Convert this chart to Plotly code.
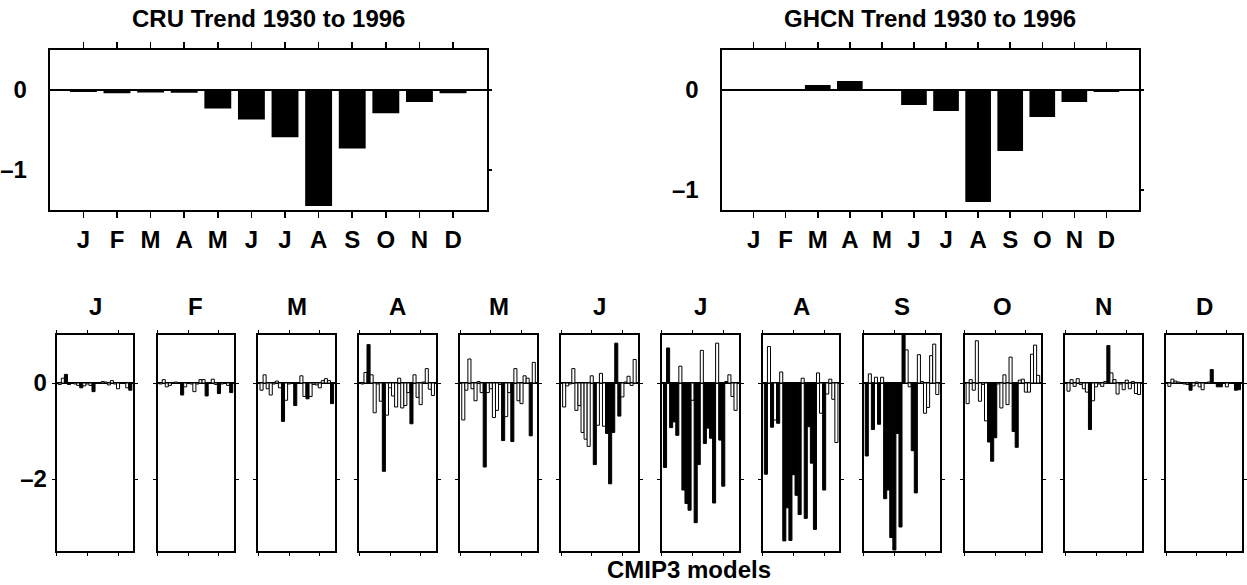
import plotly.graph_objects as go

# ---------------- data ----------------
months = ["J", "F", "M", "A", "M", "J", "J", "A", "S", "O", "N", "D"]
month_num = list(range(1, 13))

cru_trend = [-0.025, -0.04, -0.03, -0.035, -0.23, -0.37, -0.59, -1.45, -0.73, -0.29, -0.15, -0.04]
ghcn_trend = [-0.01, 0.005, 0.05, 0.09, -0.01, -0.15, -0.21, -1.12, -0.61, -0.27, -0.12, -0.02]

models = list(range(1, 25))

cmip_jan = [-0.03, 0.10, 0.18, -0.03, 0.00, -0.02, -0.05, -0.10, -0.06, -0.02, -0.05, -0.18,
            -0.01, 0.00, 0.03, 0.02, -0.04, 0.05, -0.02, -0.12, 0.00, -0.01, -0.10, -0.15]
cmip_feb = [-0.02, 0.07, -0.08, -0.05, 0.00, 0.02, 0.00, -0.25, -0.08, 0.00, -0.02, -0.18,
            -0.02, 0.07, 0.07, -0.27, 0.00, 0.08, -0.03, -0.22, -0.02, 0.00, -0.05, -0.20]
cmip_mar = [-0.15, 0.17, -0.12, -0.25, -0.02, 0.04, -0.10, -0.80, -0.36, -0.02, 0.00, -0.47,
            0.00, 0.15, -0.28, -0.33, -0.28, -0.03, -0.04, -0.10, 0.05, 0.09, 0.05, -0.43]
cmip_apr = [-0.02, 0.22, 0.80, 0.17, -0.62, -0.02, -0.38, -1.84, -0.67, -0.10, -0.27, -0.50,
            0.10, -0.52, -0.47, -0.20, -0.85, 0.17, -0.30, -0.45, 0.02, 0.30, -0.13, -0.26]
cmip_may = [-0.77, -0.15, 0.50, -0.12, -0.37, 0.03, -0.20, -1.75, -0.20, -0.12, -0.72, -0.57,
            -0.03, -1.20, -0.70, -0.20, -1.22, 0.30, -0.37, -0.43, 0.15, 0.10, -1.10, 0.43]
cmip_jun = [-0.50, -0.06, -0.02, 0.30, -0.57, -0.47, -1.03, -1.17, -1.32, 0.15, -1.70, -0.88,
            0.20, -0.90, -1.05, -2.10, -1.03, 0.83, -0.69, -0.29, 0.02, 0.14, -0.05, 0.49]
cmip_jul = [-1.76, 0.73, -0.93, -0.81, -1.09, 0.35, -2.23, -2.51, -2.65, -0.36, -2.91, -1.70,
            0.68, -1.26, -0.94, -1.15, -2.50, 0.83, -1.19, -2.15, 0.03, 0.17, -0.28, -0.57]
cmip_aug = [-1.90, 0.76, -0.92, -0.77, -0.84, 0.23, -3.29, -2.60, -3.28, -1.91, -2.34, -2.74,
            0.10, -2.82, -0.91, -1.67, -3.05, 0.21, -0.63, -2.23, -0.23, 0.08, -0.34, -1.24]
cmip_sep = [-1.52, 0.19, -0.97, 0.12, -0.86, 0.12, -2.41, -2.23, -3.22, -3.48, -1.05, -3.00,
            1.05, 0.69, -0.08, -1.41, -2.29, 0.59, 0.03, -0.63, -0.51, 0.57, 0.81, -0.24]
cmip_oct = [-0.43, 0.07, -0.15, 0.88, -0.38, -0.03, -0.79, -1.23, -1.63, -1.14, -0.02, -0.52,
            0.17, -0.45, 0.54, -1.01, -1.34, 0.06, 0.08, -0.19, -0.19, 0.60, 0.79, 0.16]
cmip_nov = [-0.17, 0.07, -0.07, 0.09, -0.03, -0.12, -0.19, -0.97, -0.37, -0.08, -0.02, -0.07,
            0.03, 0.78, 0.21, 0.07, -0.23, -0.02, -0.14, 0.06, -0.12, 0.03, -0.22, -0.24]
cmip_dec = [-0.07, 0.08, 0.04, 0.02, 0.00, -0.02, -0.03, -0.15, -0.06, 0.02, -0.08, -0.14,
            0.01, 0.02, 0.28, 0.00, -0.08, -0.08, 0.00, -0.08, 0.00, 0.01, -0.15, -0.14]

# 1 = significant (filled black), 0 = not significant (open)
sig_jan = [0, 0, 1, 1, 0, 0, 0, 1, 0, 0, 0, 1, 0, 0, 0, 0, 0, 0, 0, 0, 0, 0, 0, 1]
sig_feb = [0, 0, 0, 0, 0, 0, 0, 1, 0, 0, 0, 0, 0, 0, 0, 1, 0, 0, 0, 1, 0, 0, 0, 1]
sig_mar = [0, 0, 0, 0, 0, 0, 0, 1, 0, 0, 0, 1, 0, 0, 0, 1, 0, 0, 0, 0, 0, 0, 0, 1]
sig_apr = [0, 0, 1, 0, 0, 0, 0, 1, 0, 0, 0, 0, 0, 0, 0, 0, 1, 0, 0, 0, 0, 0, 0, 0]
sig_may = [0, 0, 0, 0, 0, 0, 0, 1, 0, 0, 0, 0, 0, 1, 0, 0, 1, 0, 0, 0, 0, 0, 1, 0]
sig_jun = [0, 0, 0, 0, 0, 0, 0, 0, 0, 0, 1, 0, 0, 0, 1, 1, 1, 1, 1, 0, 0, 0, 0, 0]
sig_jul = [1, 1, 1, 1, 1, 0, 1, 1, 1, 0, 1, 1, 0, 1, 1, 1, 1, 0, 1, 1, 1, 0, 0, 0]
sig_aug = [1, 0, 1, 0, 1, 0, 1, 1, 1, 1, 1, 1, 0, 1, 1, 1, 1, 0, 0, 1, 0, 0, 0, 0]
sig_sep = [1, 0, 1, 0, 1, 0, 1, 1, 1, 1, 1, 1, 1, 0, 0, 1, 1, 0, 0, 0, 0, 0, 0, 0]
sig_oct = [0, 0, 0, 0, 0, 0, 0, 1, 1, 1, 0, 0, 0, 0, 0, 1, 1, 0, 0, 0, 0, 0, 0, 0]
sig_nov = [0, 0, 0, 0, 0, 0, 0, 1, 0, 0, 0, 0, 0, 1, 0, 0, 0, 0, 0, 0, 0, 0, 0, 0]
sig_dec = [0, 0, 0, 0, 0, 0, 0, 1, 0, 0, 0, 0, 0, 0, 1, 0, 1, 1, 0, 0, 0, 0, 1, 1]

cmip_vals = [cmip_jan, cmip_feb, cmip_mar, cmip_apr, cmip_may, cmip_jun,
             cmip_jul, cmip_aug, cmip_sep, cmip_oct, cmip_nov, cmip_dec]
cmip_sig = [sig_jan, sig_feb, sig_mar, sig_apr, sig_may, sig_jun,
            sig_jul, sig_aug, sig_sep, sig_oct, sig_nov, sig_dec]

titles = ["CRU Trend 1930 to 1996", "GHCN Trend 1930 to 1996"]
bottom_label = "CMIP3 models"

# ---------------- layout helpers ----------------
W, H = 1247, 585


def fx(x):
    return x / W


def fy(y):
    return 1 - y / H


FAMILY = "Liberation Sans, Arial, Helvetica, sans-serif"
FONT = dict(family=FAMILY, size=24, color="black", weight="bold")

fig = go.Figure()

# top panels
fig.add_trace(go.Bar(x=month_num, y=cru_trend, width=0.8,
                     marker=dict(color="black", line=dict(width=0)),
                     xaxis="x", yaxis="y", showlegend=False, hoverinfo="skip"))
fig.add_trace(go.Bar(x=month_num, y=ghcn_trend, width=0.8,
                     marker=dict(color="black", line=dict(width=0)),
                     xaxis="x2", yaxis="y2", showlegend=False, hoverinfo="skip"))
# placeholders for right-hand tick axes
fig.add_trace(go.Scatter(x=[None], y=[None], xaxis="x", yaxis="y15", mode="markers",
                         showlegend=False, hoverinfo="skip"))
fig.add_trace(go.Scatter(x=[None], y=[None], xaxis="x2", yaxis="y16", mode="markers",
                         showlegend=False, hoverinfo="skip"))

# bottom panels
for i in range(12):
    colors = ["black" if s else "white" for s in cmip_sig[i]]
    fig.add_trace(go.Bar(x=models, y=cmip_vals[i], width=1.0,
                         marker=dict(color=colors, line=dict(color="black", width=1)),
                         xaxis=f"x{i + 3}", yaxis=f"y{i + 3}",
                         showlegend=False, hoverinfo="skip"))

layout = dict(width=W, height=H, margin=dict(l=0, r=0, t=0, b=0),
              paper_bgcolor="white", plot_bgcolor="white", showlegend=False,
              font=dict(family=FAMILY, color="black"))

top_boxes = [(48, 487, [-1.5, 0.5]), (723, 1142, [-1.2, 0.4])]
for k, (x0, x1, yr) in enumerate(top_boxes):
    n = "" if k == 0 else "2"
    layout[f"xaxis{n}"] = dict(domain=[fx(x0), fx(x1)], anchor=f"y{n}", range=[0, 13],
                               tickvals=month_num, ticktext=months,
                               ticks="outside", ticklen=6, tickwidth=1.5, tickcolor="black",
                               mirror="ticks", showline=True, linewidth=2, linecolor="black",
                               showgrid=False, zeroline=False, tickfont=FONT,
                               ticklabelstandoff=1, fixedrange=True)
    layout[f"yaxis{n}"] = dict(domain=[fy(210), fy(50)], anchor=f"x{n}", range=yr,
                               tickvals=[0, -1], ticktext=["0", "\u20131"], ticks="",
                               showline=True, linewidth=2, linecolor="black", mirror=True,
                               showgrid=False, zeroline=True, zerolinecolor="black",
                               zerolinewidth=1.5, tickfont=FONT, ticklabelstandoff=16,
                               fixedrange=True)
    layout[f"yaxis{15 + k}"] = dict(overlaying=f"y{n}", anchor=f"x{n}", side="right",
                                    range=yr, tickvals=[0, -1], ticks="outside", ticklen=4,
                                    tickwidth=1.5, tickcolor="black", showticklabels=False,
                                    showline=False, showgrid=False, zeroline=False,
                                    fixedrange=True)

annotations = []
annotations.append(dict(text=titles[0], x=fx((48 + 487) / 2), y=fy(19), xref="paper",
                        yref="paper", showarrow=False, font=FONT, xanchor="center",
                        yanchor="middle"))
annotations.append(dict(text=titles[1], x=fx((723 + 1142) / 2), y=fy(19), xref="paper",
                        yref="paper", showarrow=False, font=FONT, xanchor="center",
                        yanchor="middle"))

for i in range(12):
    left = 55 + 101.36 * i
    right = min(left + 77, 1246)
    n = i + 3
    layout[f"xaxis{n}"] = dict(domain=[fx(left), fx(right)], anchor=f"y{n}", range=[0, 25],
                               tickvals=[0, 10, 20], ticks="outside", ticklen=3,
                               tickwidth=1, tickcolor="black", mirror="ticks",
                               showticklabels=False, showline=True, linewidth=2,
                               linecolor="black", showgrid=False, zeroline=False,
                               fixedrange=True)
    layout[f"yaxis{n}"] = dict(domain=[fy(551), fy(335)], anchor=f"x{n}", range=[-3.5, 1.0],
                               tickvals=[0, -2], ticktext=["0", "\u20132"], ticks="outside",
                               ticklen=3, tickwidth=1, tickcolor="black", mirror="ticks",
                               showticklabels=(i == 0), showline=True, linewidth=2,
                               linecolor="black", showgrid=False, zeroline=True,
                               zerolinecolor="black", zerolinewidth=2, tickfont=FONT,
                               ticklabelstandoff=0, fixedrange=True)
    annotations.append(dict(text=months[i], x=fx((left + right) / 2), y=fy(306),
                            xref="paper", yref="paper", showarrow=False, font=FONT,
                            xanchor="center", yanchor="middle"))

annotations.append(dict(text=bottom_label, x=fx(690), y=fy(569), xref="paper", yref="paper",
                        showarrow=False, font=FONT, xanchor="center", yanchor="middle"))

layout["annotations"] = annotations
fig.update_layout(**layout)

fig.write_html("out.html",
               config={"displayModeBar": False, "staticPlot": True},
               post_script="document.body.style.margin='0';"
                           "document.body.style.overflow='hidden';")
